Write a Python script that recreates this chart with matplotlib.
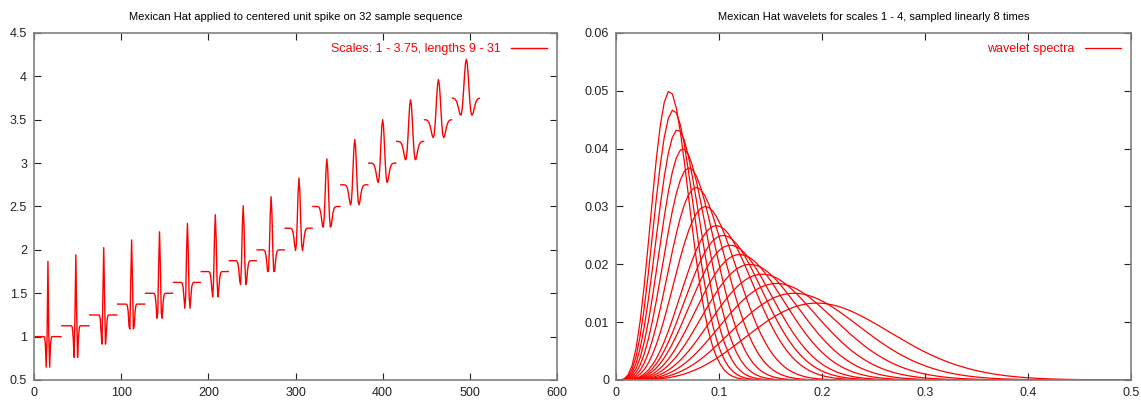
import numpy as np
import matplotlib
matplotlib.use('Agg')
import matplotlib.pyplot as plt
from matplotlib.ticker import MultipleLocator, FormatStrFormatter

# ---- data ----
# Left panel: Mexican-hat (Ricker) scales, their kernel lengths, and baseline offsets
scales = [1.0, 1.125, 1.25, 1.375, 1.5, 1.625, 1.75, 1.875, 2.0,
          2.25, 2.5, 2.75, 3.0, 3.25, 3.5, 3.75]
lengths = [9, 9, 11, 11, 13, 13, 15, 15, 17, 19, 21, 23, 25, 27, 29, 31]
offsets = [1.0, 1.125, 1.25, 1.375, 1.5, 1.625, 1.75, 1.875, 2.0,
           2.25, 2.5, 2.75, 3.0, 3.25, 3.5, 3.75]
seq_len = 32
spike_pos = 16

# Right panel: spectrum peak frequency and peak height of each curve
peak_freq = [0.195, 0.173, 0.156, 0.142, 0.130, 0.120, 0.111, 0.104, 0.0975,
             0.0867, 0.078, 0.0709, 0.065, 0.060, 0.0557, 0.052]
peak_height = [0.0133, 0.0150, 0.0167, 0.0183, 0.0200, 0.0217, 0.0233, 0.0250,
               0.0267, 0.0300, 0.0333, 0.0367, 0.0400, 0.0433, 0.0467, 0.0500]
n_freq = 129

left_title = "Mexican Hat applied to centered unit spike on 32 sample sequence"
right_title = "Mexican Hat wavelets for scales 1 - 4, sampled linearly 8 times"
left_label = "Scales: 1 - 3.75, lengths 9 - 31"
right_label = "wavelet spectra"


def ricker(points, a):
    A = 2 / (np.sqrt(3 * a) * np.pi ** 0.25)
    v = np.arange(points) - (points - 1) / 2.0
    return A * (1 - v ** 2 / a ** 2) * np.exp(-v ** 2 / (2 * a ** 2))


plt.rcParams['font.family'] = ['Liberation Sans', 'DejaVu Sans']
RED = '#ff0000'

fig = plt.figure(figsize=(11.41, 4.0), dpi=100)
ax1 = fig.add_axes([34 / 1141, 20 / 400, 523 / 1141, 347 / 400])
ax2 = fig.add_axes([616 / 1141, 20 / 400, 515 / 1141, 347 / 400])

for i, (s, L, off) in enumerate(zip(scales, lengths, offsets)):
    seg = np.zeros(seq_len)
    w = ricker(L, s)
    h = (L - 1) // 2
    seg[spike_pos - h:spike_pos + h + 1] = w
    x = np.arange(seq_len) + seq_len * i
    ax1.plot(x, off + seg, color=RED, lw=1.0,
             label=left_label if i == 0 else None)

f = np.linspace(0, 0.5, n_freq)
for j, (f0, hgt) in enumerate(zip(peak_freq, peak_height)):
    r = f / f0
    p = hgt * r ** 4 * np.exp(2 * (1 - r ** 2))
    ax2.plot(f, p, color=RED, lw=0.9,
             label=right_label if j == 0 else None)

ax1.set_xlim(0, 600)
ax1.set_ylim(0.5, 4.5)
ax1.xaxis.set_major_locator(MultipleLocator(100))
ax1.yaxis.set_major_locator(MultipleLocator(0.5))
ax2.set_xlim(0, 0.5)
ax2.set_ylim(0, 0.06)
ax2.xaxis.set_major_locator(MultipleLocator(0.1))
ax2.yaxis.set_major_locator(MultipleLocator(0.01))

for ax, title in ((ax1, left_title), (ax2, right_title)):
    ax.set_title(title, fontsize=8, pad=9)
    ax.xaxis.set_major_formatter(FormatStrFormatter('%g'))
    ax.yaxis.set_major_formatter(FormatStrFormatter('%g'))
    ax.tick_params(direction='in', top=True, right=True, length=5, width=0.8,
                   labelsize=9, pad=5, colors='#222222')
    for sp in ax.spines.values():
        sp.set_color('#808080')
        sp.set_linewidth(1.2)
    leg = ax.legend(loc='upper right', frameon=False, markerfirst=False,
                    fontsize=9, handlelength=2.9, borderaxespad=0.4,
                    handletextpad=0.8)
    for t in leg.get_texts():
        t.set_color(RED)

fig.savefig('out.png', dpi=100)
